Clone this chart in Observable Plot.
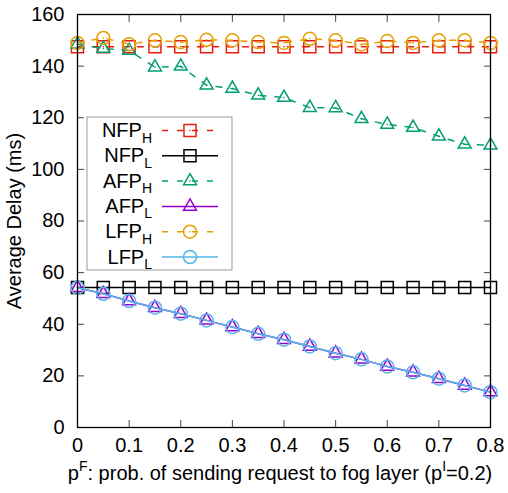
<!DOCTYPE html>
<html>
<head>
<meta charset="utf-8">
<script src="https://cdn.jsdelivr.net/npm/d3@7"></script>
<script src="https://cdn.jsdelivr.net/npm/@observablehq/plot@0.6"></script>
<style>
  html, body { margin: 0; padding: 0; background: #fff; }
  #chart { position: relative; width: 508px; height: 493px; }
</style>
</head>
<body>
<div id="chart"></div>
<script>
// ---- data ----
const xs = [0, 0.05, 0.1, 0.15, 0.2, 0.25, 0.3, 0.35, 0.4, 0.45, 0.5, 0.55, 0.6, 0.65, 0.7, 0.75, 0.8];
const nfpH = [147.5, 147.5, 147.5, 147.5, 147.5, 147.5, 147.5, 147.5, 147.5, 147.5, 147.5, 147.5, 147.5, 147.5, 147.5, 147.5, 147.5];
const nfpL = [54.2, 54.2, 54.2, 54.2, 54.2, 54.2, 54.2, 54.2, 54.2, 54.2, 54.2, 54.2, 54.2, 54.2, 54.2, 54.2, 54.2];
const afpH = [148.5, 146.8, 146.0, 139.6, 139.9, 132.6, 131.3, 128.7, 127.8, 123.9, 123.8, 119.6, 117.4, 116.2, 112.8, 109.7, 109.3];
const afpL = [54.1, 51.8, 49.0, 46.4, 44.1, 41.5, 38.9, 36.3, 34.0, 31.4, 28.8, 26.4, 23.6, 21.4, 18.9, 16.3, 13.7];
const lfpH = [149.0, 150.9, 148.5, 150.0, 149.3, 150.2, 150.0, 149.3, 149.0, 150.6, 150.0, 148.4, 149.7, 149.0, 150.0, 150.0, 149.0];
const lfpL = [54.1, 51.8, 49.0, 46.4, 44.1, 41.5, 38.9, 36.3, 34.0, 31.4, 28.8, 26.4, 23.6, 21.4, 18.9, 16.3, 13.7];

const seriesNames = ["NFP_H", "NFP_L", "AFP_H", "AFP_L", "LFP_H", "LFP_L"];
const yTicks = [0, 20, 40, 60, 80, 100, 120, 140, 160];
const xTicks = [0, 0.1, 0.2, 0.3, 0.4, 0.5, 0.6, 0.7, 0.8];
const yLabel = "Average Delay (ms)";

// ---- styles ----
const styles = [
  {base: "NFP", sub: "H", values: nfpH, color: "#e51e10", dash: "6,9", symbol: "square", r: 6.8, dot: true},
  {base: "NFP", sub: "L", values: nfpL, color: "#000000", dash: null, symbol: "square", r: 6.8, dot: false},
  {base: "AFP", sub: "H", values: afpH, color: "#009e73", dash: "6,9", symbol: "triangle", r: 4.8, dot: true},
  {base: "AFP", sub: "L", values: afpL, color: "#9400d3", dash: null, symbol: "triangle", r: 4.8, dot: false},
  {base: "LFP", sub: "H", values: lfpH, color: "#e69f00", dash: "6,9", symbol: "circle", r: 6.5, dot: true},
  {base: "LFP", sub: "L", values: lfpL, color: "#56b4e9", dash: null, symbol: "circle", r: 6.5, dot: false}
];

const marks = [];
styles.forEach((s, i) => {
  const rows = xs.map((x, j) => ({series: seriesNames[i], x, y: s.values[j]}));
  marks.push(Plot.line(rows, {x: "x", y: "y", stroke: s.color, strokeWidth: 1.5, strokeDasharray: s.dash || undefined}));
  marks.push(Plot.dot(rows, {x: "x", y: "y", symbol: s.symbol, r: s.r, stroke: s.color, fill: "none", strokeWidth: 1.5}));
  if (s.dot) marks.push(Plot.dot(rows, {x: "x", y: "y", r: 0.8, fill: s.color, stroke: "none"}));
});

const font = "'Liberation Sans', Arial, Helvetica, sans-serif";
const chart = Plot.plot({
  width: 508,
  height: 493,
  marginLeft: 77,
  marginRight: 18,
  marginTop: 14,
  marginBottom: 66,
  style: {fontFamily: font, fontSize: "20px", color: "#000", background: "#fff", overflow: "visible"},
  x: {domain: [0, 0.8]},
  y: {domain: [0, 160]},
  marks: [
    Plot.axisY({anchor: "left", ticks: yTicks, tickSize: 0, tickPadding: 13, label: null, fontSize: 20}),
    Plot.axisY({anchor: "left", ticks: yTicks, tickSize: -7, tickFormat: () => "", label: null, stroke: "#444"}),
    Plot.axisY({anchor: "right", ticks: yTicks, tickSize: -7, tickFormat: () => "", label: null, stroke: "#444"}),
    Plot.axisX({anchor: "bottom", ticks: xTicks, tickSize: 0, tickPadding: 10, tickFormat: d => String(d), label: null, fontSize: 20}),
    Plot.axisX({anchor: "bottom", ticks: xTicks, tickSize: -7, tickFormat: () => "", label: null, stroke: "#444"}),
    Plot.axisX({anchor: "top", ticks: xTicks, tickSize: -7, tickFormat: () => "", label: null, stroke: "#444"}),
    ...marks,
    Plot.frame({stroke: "black", strokeWidth: 1.3})
  ]
});
document.getElementById("chart").appendChild(chart);

// ---- titles ----
const svg = d3.select(chart);
svg.append("text")
  .attr("transform", "translate(21,221) rotate(-90)")
  .attr("text-anchor", "middle")
  .attr("font-family", font).attr("font-size", 20).attr("fill", "#000")
  .text(yLabel);

const xt = svg.append("text")
  .attr("x", 280).attr("y", 480)
  .attr("text-anchor", "middle")
  .attr("font-family", font).attr("font-size", 20).attr("fill", "#000");
xt.append("tspan").text("p");
xt.append("tspan").attr("font-size", 14).attr("dy", -9).text("F");
xt.append("tspan").attr("dy", 9).text(": prob. of sending request to fog layer (p");
xt.append("tspan").attr("font-size", 14).attr("dy", -9).text("I");
xt.append("tspan").attr("dy", 9).text("=0.2)");

// ---- legend ----
const lg = svg.append("g");
lg.append("rect").attr("x", 87).attr("y", 117).attr("width", 145).attr("height", 153)
  .attr("fill", "#fff").attr("stroke", "#999").attr("stroke-width", 1);
const rowY0 = 130.5, rowDy = 25.3;
const symMap = {square: d3.symbolSquare, triangle: d3.symbolTriangle, circle: d3.symbolCircle};
styles.forEach((s, i) => {
  const y = rowY0 + i * rowDy;
  const t = lg.append("text").attr("x", 152).attr("y", y + 6.5).attr("text-anchor", "end")
    .attr("font-family", font).attr("font-size", 20).attr("fill", "#000");
  t.append("tspan").text(s.base);
  t.append("tspan").attr("font-size", 14).attr("dy", 5.5).text(s.sub);
  lg.append("line").attr("x1", 162).attr("x2", 218).attr("y1", y).attr("y2", y)
    .attr("stroke", s.color).attr("stroke-width", 1.5)
    .attr("stroke-dasharray", s.dash ? "6,9" : null)
    .attr("stroke-dashoffset", s.dash ? 0 : null);
  lg.append("path").attr("transform", `translate(190,${y})`)
    .attr("d", d3.symbol(symMap[s.symbol], s.r * s.r * Math.PI)())
    .attr("fill", "none").attr("stroke", s.color).attr("stroke-width", 1.5);
  if (s.dot) lg.append("circle").attr("cx", 190).attr("cy", y).attr("r", 0.8).attr("fill", s.color);
});
</script>
</body>
</html>
